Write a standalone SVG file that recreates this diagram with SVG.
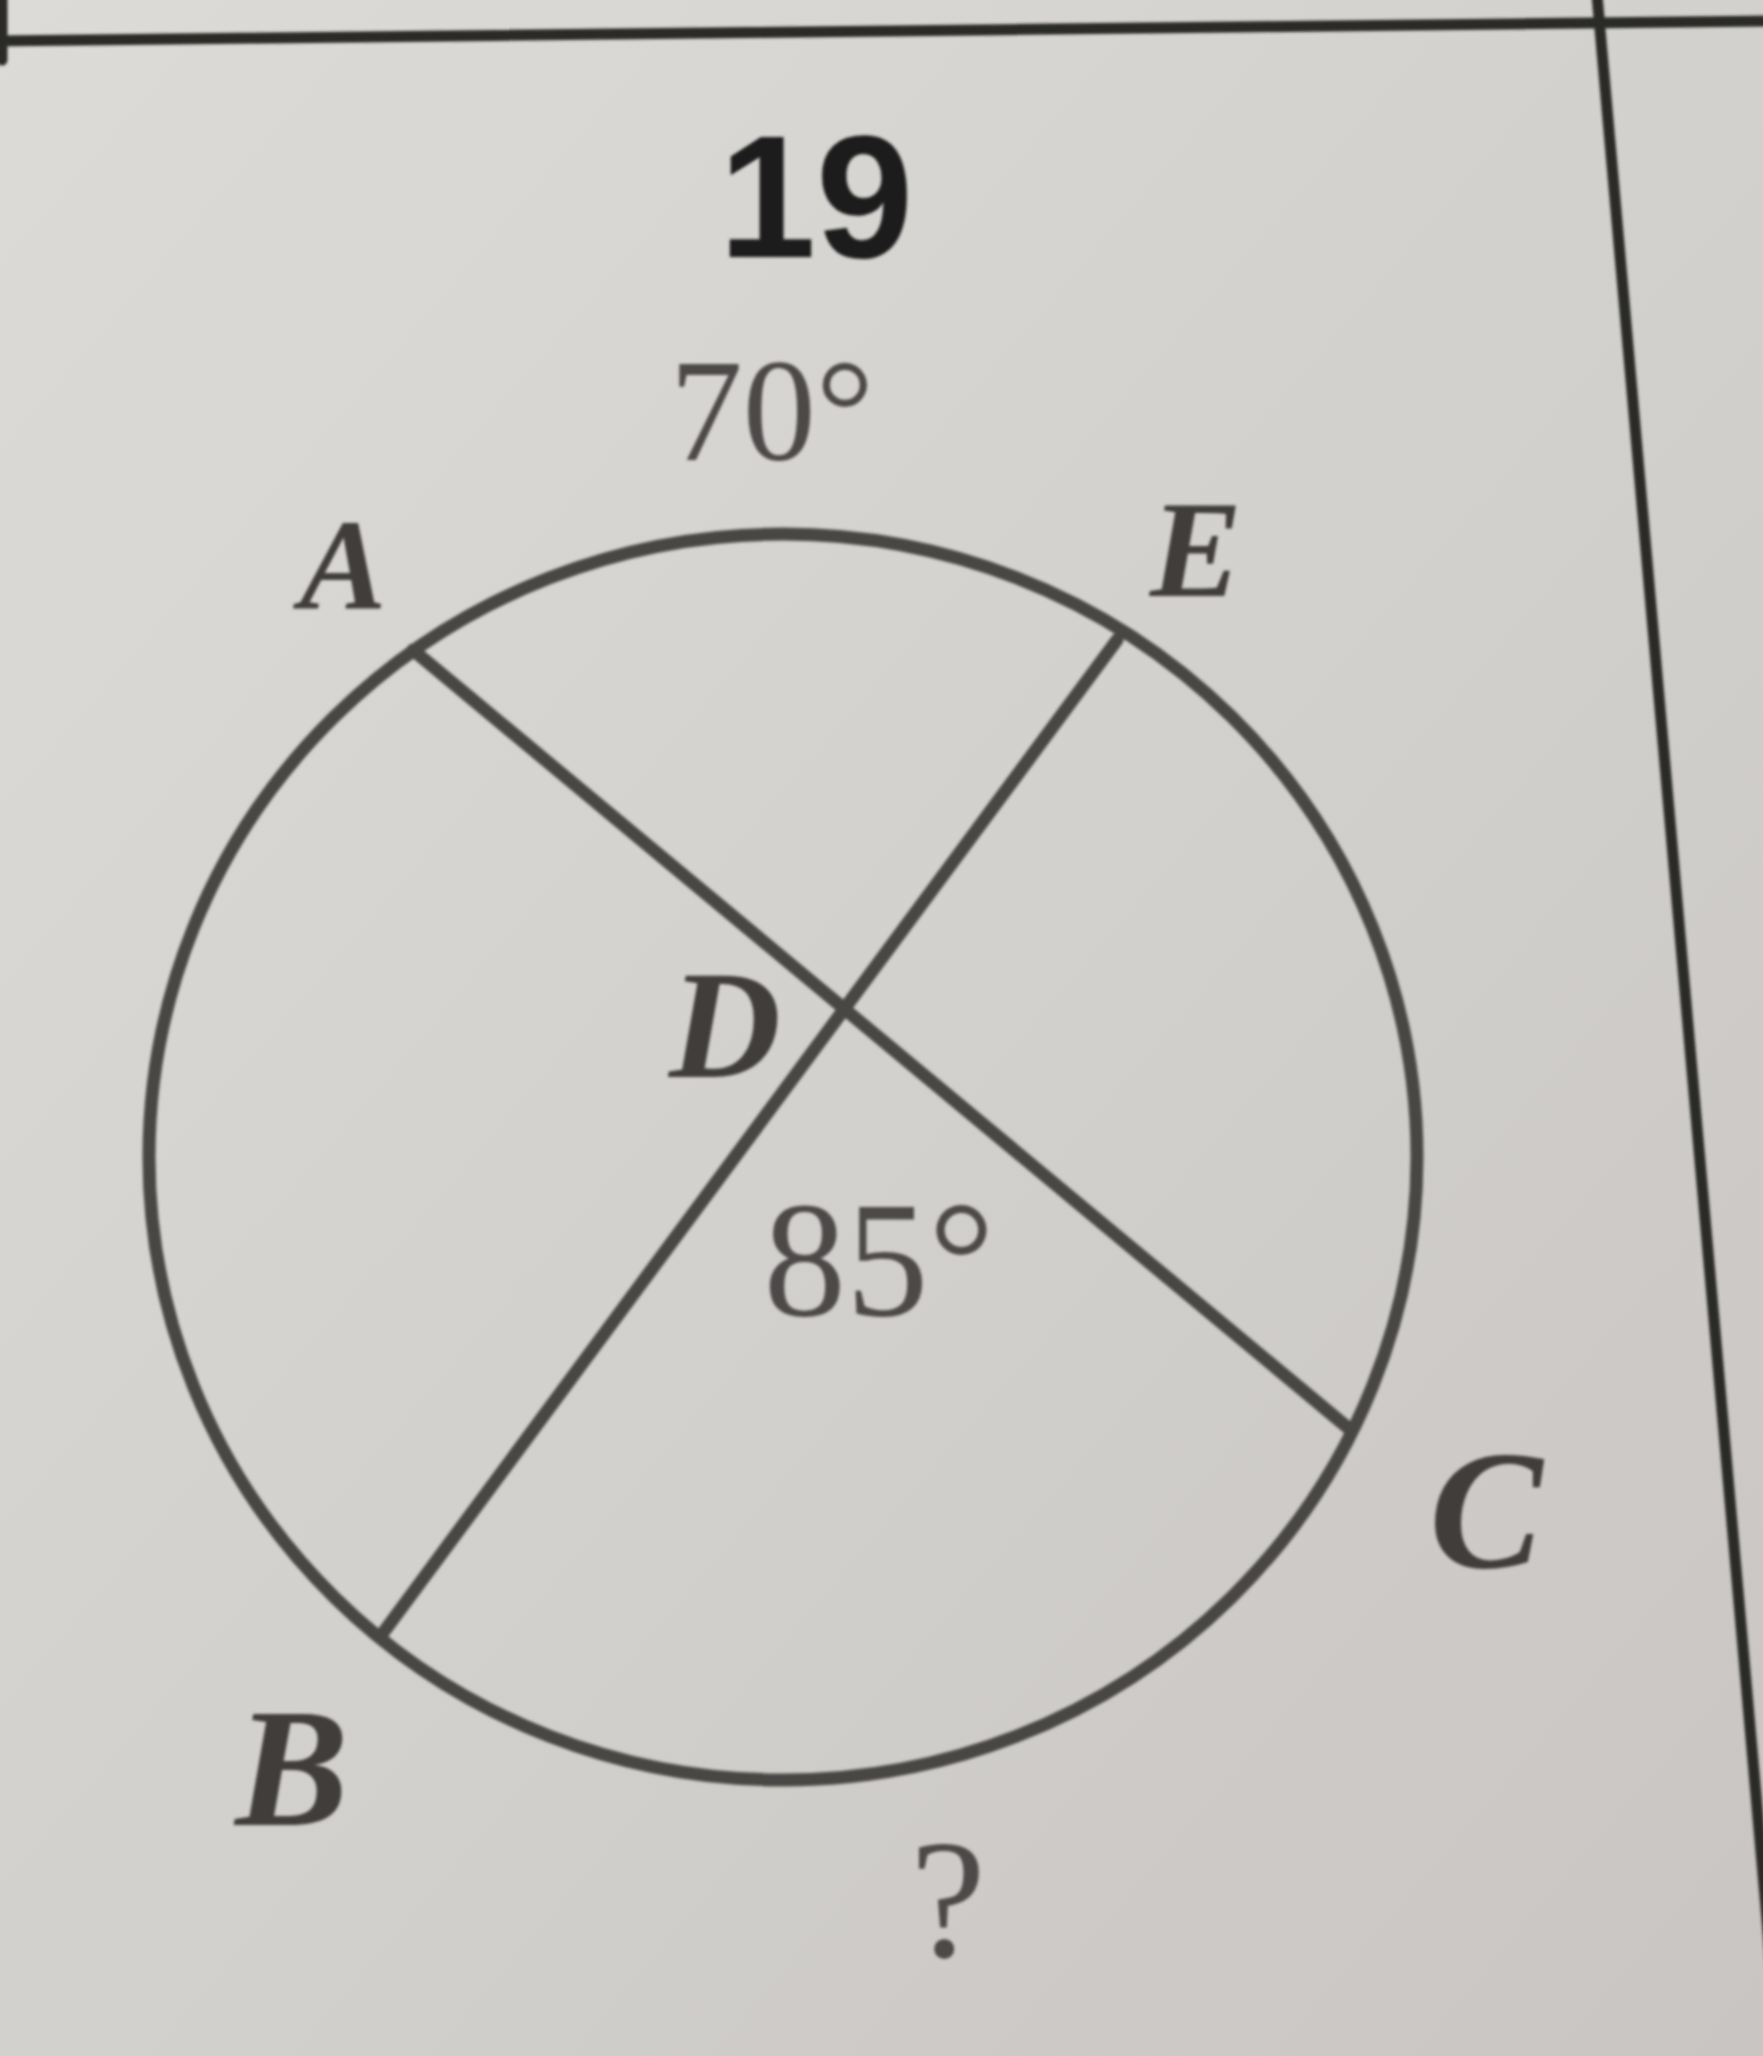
<svg xmlns="http://www.w3.org/2000/svg" width="1763" height="2056" viewBox="0 0 1763 2056">
  <defs>
    <linearGradient id="paper" x1="0" y1="0" x2="1" y2="1">
      <stop offset="0" stop-color="#dddbd8"/>
      <stop offset="0.5" stop-color="#d3d1ce"/>
      <stop offset="1" stop-color="#c8c5c2"/>
    </linearGradient>
    <filter id="soft" x="-5%" y="-5%" width="110%" height="110%">
      <feGaussianBlur stdDeviation="1.8"/>
    </filter>
    <style>
      .rule { fill: none; stroke: #2b2928; stroke-width: 11; stroke-linecap: round; }
      .geo { fill: none; stroke: #4a4745; stroke-width: 13; stroke-linecap: round; }
      .num { font-family: "Liberation Sans", Arial, sans-serif; font-weight: bold; fill: #1f1d1d; }
      .deg { font-family: "Liberation Serif", "Times New Roman", serif; fill: #4d4a48; }
      .pt { font-family: "Liberation Serif", "Times New Roman", serif; font-style: italic; font-weight: bold; fill: #3f3c3a; text-anchor: middle; }
    </style>
  </defs>
  <rect x="0" y="0" width="1763" height="2056" fill="url(#paper)"/>
  <g filter="url(#soft)">
    <g id="page-rules">
      <line class="rule" x1="-5" y1="41" x2="1770" y2="21"/>
      <line class="rule" x1="2" y1="0" x2="2" y2="60"/>
      <line class="rule" x1="1597" y1="-5" x2="1775" y2="2010"/>
    </g>
    <g id="title">
      <text class="num" x="816" y="257" font-size="175" text-anchor="middle">19</text>
    </g>
    <g id="circle">
      <ellipse class="geo" cx="783" cy="1157" rx="634" ry="623"/>
    </g>
    <g id="connectors">
      <line class="geo" x1="413" y1="650" x2="1347" y2="1427"/>
      <line class="geo" x1="1117" y1="640" x2="383" y2="1633"/>
    </g>
    <g id="node-A"><text class="pt" x="343" y="608" font-size="130">A</text></g>
    <g id="node-E"><text class="pt" x="1196" y="596" font-size="138">E</text></g>
    <g id="node-D"><text class="pt" x="725" y="1077" font-size="155">D</text></g>
    <g id="node-C"><text class="pt" x="1486" y="1567" font-size="170">C</text></g>
    <g id="node-B"><text class="pt" x="292" y="1825" font-size="170">B</text></g>
    <g id="label-70"><text class="deg" x="772" y="460" font-size="146" text-anchor="middle">70°</text></g>
    <g id="label-85"><text class="deg" x="879" y="1315" font-size="165" text-anchor="middle">85°</text></g>
    <g id="label-q"><text class="deg" x="948" y="1957" font-size="170" text-anchor="middle">?</text></g>
  </g>
</svg>
